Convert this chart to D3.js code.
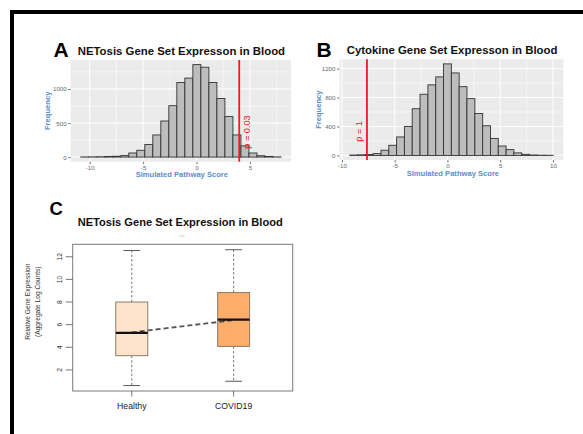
<!DOCTYPE html>
<html><head><meta charset="utf-8">
<script src="https://cdn.jsdelivr.net/npm/d3@7"></script>
<style>
body{margin:0;background:#fff}
svg{display:block;font-family:"Liberation Sans",Arial,Helvetica,sans-serif}
</style>
</head><body>
<svg id="chart" width="583" height="434"></svg>
<script>
// ---------- DATA ----------
// Panel A: NETosis simulated pathway score histogram
const netosisEdges = [-10.84,-10.09,-9.34,-8.59,-7.84,-7.09,-6.34,-5.59,-4.84,-4.09,-3.34,-2.59,-1.84,-1.09,-0.34,0.41,1.16,1.91,2.66,3.41,4.16,4.91,5.66,6.41,7.16,7.91];
const netosisCounts = [2,3,5,8,12,22,60,100,185,325,530,755,1095,1160,1358,1320,1095,860,595,325,165,60,20,8,3];
const netosisObserved = 4.0;
const netosisPLabel = "p = 0.03";
const netosisXTicks = [-10,-5,0,5];
const netosisYTicks = [0,500,1000];
const netosisXMinor = [-7.5,-2.5,2.5,7.5];
const netosisYMinor = [250,750,1250];

// Panel B: Cytokine simulated pathway score histogram
const cytokineEdges = [-9.27,-8.53,-7.79,-7.05,-6.30,-5.56,-4.82,-4.08,-3.34,-2.60,-1.85,-1.11,-0.37,0.37,1.11,1.85,2.60,3.34,4.08,4.82,5.56,6.30,7.05,7.79,8.53,9.27,10.02];
const cytokineCounts = [5,8,12,25,72,140,255,400,645,845,975,1085,1265,1140,950,785,580,410,235,130,80,35,15,6,3,2];
const cytokineObserved = -7.63;
const cytokinePLabel = "p = 1";
const cytokineXTicks = [-10,-5,0,5,10];
const cytokineYTicks = [0,400,800,1200];
const cytokineXMinor = [-7.5,-2.5,2.5,7.5];
const cytokineYMinor = [200,600,1000];

// Panel C: boxplot
const groups = ["Healthy","COVID19"];
const whiskerLow = [0.62,1.00];
const q1 = [3.26,4.08];
const medians = [5.27,6.45];
const q3 = [8.00,8.84];
const whiskerHigh = [12.55,12.62];
const means = [5.32,6.40];
const boxYTicks = [2,4,6,8,10,12];

// ---------- STYLE ----------
const boxFills = ["#fde4cb","#fdad6a"];
const axisBlue = "#5b8fc8";

const svg = d3.select("#chart");
svg.append("rect").attr("width",583).attr("height",434).attr("fill","#fff");

// outer black frame (top and left)
svg.append("rect").attr("x",10).attr("y",10).attr("width",573).attr("height",4).attr("fill","#000");
svg.append("rect").attr("x",10).attr("y",10).attr("width",4).attr("height",424).attr("fill","#000");

function drawHist(o){
  const g = svg.append("g");
  const lo = d3.min(o.edges), hi = d3.max(o.edges), pad = (hi-lo)*0.05;
  const x = d3.scaleLinear().domain([lo-pad, hi+pad]).range([o.x0, o.x1]);
  const ymax = d3.max(o.counts);
  const y = d3.scaleLinear().domain([-ymax*0.05, ymax*1.05]).range([o.y1, o.y0]);

  g.append("rect").attr("x",o.x0).attr("y",o.y0).attr("width",o.x1-o.x0).attr("height",o.y1-o.y0).attr("fill","#ebebeb");
  const inX = v => x(v) >= o.x0 && x(v) <= o.x1;
  const inY = v => y(v) >= o.y0 && y(v) <= o.y1;
  g.selectAll(".mnx").data(o.xMinor.filter(inX)).join("line")
    .attr("x1",d=>x(d)).attr("x2",d=>x(d)).attr("y1",o.y0).attr("y2",o.y1)
    .attr("stroke","#fff").attr("stroke-width",0.5);
  g.selectAll(".mny").data(o.yMinor.filter(inY)).join("line")
    .attr("y1",d=>y(d)).attr("y2",d=>y(d)).attr("x1",o.x0).attr("x2",o.x1)
    .attr("stroke","#fff").attr("stroke-width",0.5);
  g.selectAll(".mjx").data(o.xTicks.filter(inX)).join("line")
    .attr("x1",d=>x(d)).attr("x2",d=>x(d)).attr("y1",o.y0).attr("y2",o.y1)
    .attr("stroke","#fff").attr("stroke-width",1);
  g.selectAll(".mjy").data(o.yTicks.filter(inY)).join("line")
    .attr("y1",d=>y(d)).attr("y2",d=>y(d)).attr("x1",o.x0).attr("x2",o.x1)
    .attr("stroke","#fff").attr("stroke-width",1);

  const bins = o.counts.map((c,i)=>({a:o.edges[i], b:o.edges[i+1], c}));
  g.selectAll(".bar").data(bins).join("rect")
    .attr("x",d=>x(d.a)).attr("width",d=>x(d.b)-x(d.a))
    .attr("y",d=>y(d.c)).attr("height",d=>y(0)-y(d.c))
    .attr("fill","#bdbdbd").attr("stroke","#333").attr("stroke-width",0.9);

  // observed score line
  g.append("line").attr("x1",x(o.observed)).attr("x2",x(o.observed))
    .attr("y1",o.y0).attr("y2",o.y1).attr("stroke","#f21a1a").attr("stroke-width",1.8);
  g.append("text").attr("transform",`translate(${x(o.observed)+o.pDx},${o.pY}) rotate(-90)`)
    .attr("text-anchor","middle").attr("dominant-baseline","central")
    .attr("fill","#f21a1a").attr("font-size",9.2).text(o.pLabel);

  // axes
  const xa = g.append("g").attr("transform",`translate(0,${o.y1})`)
    .call(d3.axisBottom(x).tickValues(o.xTicks).tickSize(2.5).tickPadding(1.5).tickFormat(d=>String(d)));
  const ya = g.append("g").attr("transform",`translate(${o.x0},0)`)
    .call(d3.axisLeft(y).tickValues(o.yTicks).tickSize(2.5).tickPadding(1.5).tickFormat(d=>String(d)));
  [xa,ya].forEach(a=>{
    a.select(".domain").remove();
    a.selectAll(".tick line").attr("stroke","#555").attr("stroke-width",0.8);
    a.selectAll(".tick text").attr("fill","#6a6a6a").attr("font-size",6.2)
      .attr("font-family","'Liberation Sans',Arial,sans-serif");
  });

  // titles
  g.append("text").attr("x",(o.x0+o.x1)/2+o.xlabDx).attr("y",o.y1+15.5).attr("text-anchor","middle")
    .attr("fill",axisBlue).attr("font-weight","bold").attr("font-size",7.6).text("Simulated Pathway Score");
  g.append("text").attr("transform",`translate(${o.ylabX},${(o.y0+o.y1)/2}) rotate(-90)`)
    .attr("text-anchor","middle").attr("dominant-baseline","central")
    .attr("fill",axisBlue).attr("font-weight","bold").attr("font-size",7.6).text("Frequency");
  g.append("text").attr("x",o.titleX).attr("y",o.titleY).attr("font-weight","bold")
    .attr("font-size",11.4).attr("fill","#111").text(o.title);
  g.append("text").attr("x",o.letterX).attr("y",o.letterY).attr("font-weight","bold")
    .attr("font-size",21).attr("fill","#000").text(o.letter);
}

drawHist({edges:netosisEdges, counts:netosisCounts, observed:netosisObserved, pLabel:netosisPLabel,
  xTicks:netosisXTicks, yTicks:netosisYTicks, xMinor:netosisXMinor, yMinor:netosisYMinor,
  x0:70.7, x1:291, y0:60, y1:161.7, pDx:8, pY:132, xlabDx:1, ylabX:47,
  title:"NETosis Gene Set Expresson in Blood", titleX:77.7, titleY:55, letter:"A", letterX:53.5, letterY:56.7});

drawHist({edges:cytokineEdges, counts:cytokineCounts, observed:cytokineObserved, pLabel:cytokinePLabel,
  xTicks:cytokineXTicks, yTicks:cytokineYTicks, xMinor:cytokineXMinor, yMinor:cytokineYMinor,
  x0:339.5, x1:563.3, y0:59.3, y1:160, pDx:-7.5, pY:131.5, xlabDx:1.5, ylabX:318.3,
  title:"Cytokine Gene Set Expresson in Blood", titleX:346.7, titleY:54, letter:"B", letterX:316.5, letterY:56.7});

// ---------- Panel C ----------
(function(){
  const g = svg.append("g");
  const L=72.7, R=292.7, T=244.3, B=391;
  const x = d3.scaleLinear().domain([0.42, 2.58]).range([L, R]);
  const lo = d3.min(whiskerLow), hi = d3.max(whiskerHigh), r = hi-lo;
  const y = d3.scaleLinear().domain([lo-0.04*r, hi+0.04*r]).range([B, T]);
  const data = groups.map((name,i)=>({name, i:i+1, lo:whiskerLow[i], q1:q1[i], med:medians[i], q3:q3[i], hi:whiskerHigh[i], mean:means[i], fill:boxFills[i]}));
  const hw = 0.157, cap = 0.082;

  // whiskers (dashed)
  data.forEach(d=>{
    g.append("line").attr("x1",x(d.i)).attr("x2",x(d.i)).attr("y1",y(d.q3)).attr("y2",y(d.hi))
      .attr("stroke","#555").attr("stroke-width",0.8).attr("stroke-dasharray","2.5,2");
    g.append("line").attr("x1",x(d.i)).attr("x2",x(d.i)).attr("y1",y(d.q1)).attr("y2",y(d.lo))
      .attr("stroke","#555").attr("stroke-width",0.8).attr("stroke-dasharray","2.5,2");
    [d.hi,d.lo].forEach(v=>g.append("line").attr("x1",x(d.i-cap)).attr("x2",x(d.i+cap))
      .attr("y1",y(v)).attr("y2",y(v)).attr("stroke","#444").attr("stroke-width",0.9));
  });
  g.selectAll(".box").data(data).join("rect")
    .attr("x",d=>x(d.i-hw)).attr("width",d=>x(d.i+hw)-x(d.i-hw))
    .attr("y",d=>y(d.q3)).attr("height",d=>y(d.q1)-y(d.q3))
    .attr("fill",d=>d.fill).attr("stroke","#8c7c6c").attr("stroke-width",1);
  // mean connecting dashed line
  g.append("line").attr("x1",x(1)).attr("y1",y(means[0])).attr("x2",x(2)).attr("y2",y(means[1]))
    .attr("stroke","#555").attr("stroke-width",1.8).attr("stroke-dasharray","5,3");
  g.selectAll(".med").data(data).join("line")
    .attr("x1",d=>x(d.i-hw)).attr("x2",d=>x(d.i+hw)).attr("y1",d=>y(d.med)).attr("y2",d=>y(d.med))
    .attr("stroke","#111").attr("stroke-width",2.2);
  g.selectAll(".mean").data(data).join("circle")
    .attr("cx",d=>x(d.i)+(d.i===1?10:-10)).attr("cy",d=>y(d.mean)).attr("r",1.4).attr("fill","#222");

  // frame
  g.append("rect").attr("x",L).attr("y",T).attr("width",R-L).attr("height",B-T)
    .attr("fill","none").attr("stroke","#7a7a7a").attr("stroke-width",1);

  // y axis
  boxYTicks.forEach(v=>{
    g.append("line").attr("x1",L-7).attr("x2",L).attr("y1",y(v)).attr("y2",y(v)).attr("stroke","#555").attr("stroke-width",0.8);
    g.append("text").attr("transform",`translate(${L-13},${y(v)}) rotate(-90)`)
      .attr("text-anchor","middle").attr("dominant-baseline","central")
      .attr("font-size",6.8).attr("fill","#333").text(v);
  });
  // x axis
  data.forEach(d=>{
    g.append("line").attr("x1",x(d.i)).attr("x2",x(d.i)).attr("y1",B).attr("y2",B+5.5).attr("stroke","#555").attr("stroke-width",0.8);
    g.append("text").attr("x",x(d.i)).attr("y",B+18).attr("text-anchor","middle")
      .attr("font-size",8.7).attr("fill","#222").text(d.name);
  });
  // y label
  g.append("text").attr("transform",`translate(27.7,301.7) rotate(-90)`).attr("text-anchor","middle")
    .attr("dominant-baseline","central").attr("font-size",6.6).attr("fill","#333").text("Relative Gene Expression");
  g.append("text").attr("transform",`translate(37.3,301.7) rotate(-90)`).attr("text-anchor","middle")
    .attr("dominant-baseline","central").attr("font-size",6.6).attr("fill","#333").text("(Aggregate Log Counts)");
  // title
  g.append("text").attr("x",77.7).attr("y",225.7).attr("font-weight","bold").attr("font-size",11.1)
    .attr("fill","#111").text("NETosis Gene Set Expression in Blood");
  g.append("line").attr("x1",179.5).attr("x2",184.5).attr("y1",236).attr("y2",236).attr("stroke","#bbb").attr("stroke-width",0.8);
  g.append("text").attr("x",49.5).attr("y",215).attr("font-weight","bold").attr("font-size",18.5)
    .attr("fill","#000").text("C");
})();
</script>
</body></html>
